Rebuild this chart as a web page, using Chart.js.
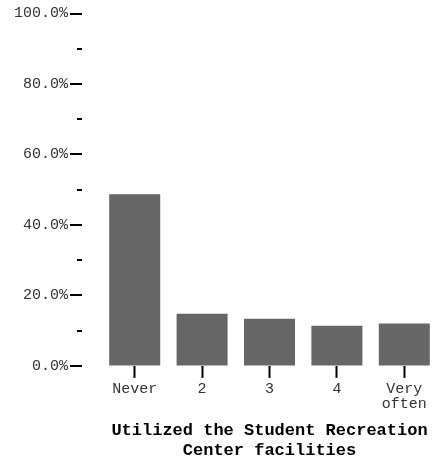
<!DOCTYPE html>
<html>
<head>
<meta charset="utf-8">
<script src="https://cdn.jsdelivr.net/npm/chart.js@4"></script>
<style>
  html, body { margin: 0; padding: 0; overflow: hidden; background: #fff; }
  #wrap { width: 438px; height: 461px; }
</style>
</head>
<body>
<div id="wrap"><canvas id="myChart"></canvas></div>
<script>
// data
let categories = ['Never', '2', '3', '4', ['Very', 'often']]
let percents = [48.7, 14.8, 13.4, 11.4, 12.0]
let majorTicks = [0, 20, 40, 60, 80, 100]
let axisTitle = ['Utilized the Student Recreation', 'Center facilities']

let monoFont = '"Courier New", "Liberation Mono", monospace'

// y axis ticks sit away from the bars, long ones for labelled values
const yTickMarks = {
  id: 'yTickMarks',
  afterDraw(chart) {
    let scale = chart.scales.y
    let ctx = chart.ctx
    let right = chart.chartArea.left - 19
    ctx.save()
    ctx.strokeStyle = '#000'
    ctx.lineWidth = 2
    scale.ticks.forEach(function (t) {
      let y = Math.round(scale.getPixelForValue(t.value))
      let len = majorTicks.includes(t.value) ? 12 : 5
      ctx.beginPath()
      ctx.moveTo(right - len, y)
      ctx.lineTo(right, y)
      ctx.stroke()
    })
    ctx.restore()
  }
}

var ctx = document.getElementById('myChart').getContext('2d');
var chart = new Chart(ctx, {
    type: 'bar',
    data: {
        labels: categories,
        datasets: [{
            label: 'Percent',
            backgroundColor: '#666666',
            data: percents,
            barPercentage: 0.757,
            categoryPercentage: 1.0
        }]
    },
    options: {
        responsive: true,
        maintainAspectRatio: false,
        animation: false,
        layout: { padding: { top: 0, right: 0, bottom: 0, left: 8 } },
        plugins: {
            legend: { display: false },
            tooltip: { enabled: false }
        },
        scales: {
            x: {
                border: { display: false },
                grid: {
                    display: true,
                    offset: false,
                    drawOnChartArea: false,
                    tickLength: 12,
                    tickWidth: 2,
                    tickColor: '#000'
                },
                ticks: {
                    color: '#333',
                    font: { family: monoFont, size: 15, lineHeight: 1.0 },
                    padding: 4,
                    maxRotation: 0,
                    autoSkip: false
                },
                title: {
                    display: true,
                    text: axisTitle,
                    color: '#000',
                    font: { family: monoFont, size: 17, weight: 'bold', lineHeight: 1.18 },
                    padding: { top: 5, bottom: 0 }
                }
            },
            y: {
                min: 0,
                max: 100,
                border: { display: false },
                grid: {
                    display: true,
                    drawOnChartArea: false,
                    tickLength: 27,
                    tickColor: 'rgba(0,0,0,0)'
                },
                ticks: {
                    stepSize: 10,
                    color: '#333',
                    padding: 6,
                    font: { family: monoFont, size: 15, lineHeight: 1.0 },
                    callback: function (v) {
                        return majorTicks.includes(v) ? v.toFixed(1) + '%' : ''
                    }
                }
            }
        }
    },
    plugins: [yTickMarks]
});
</script>
</body>
</html>
